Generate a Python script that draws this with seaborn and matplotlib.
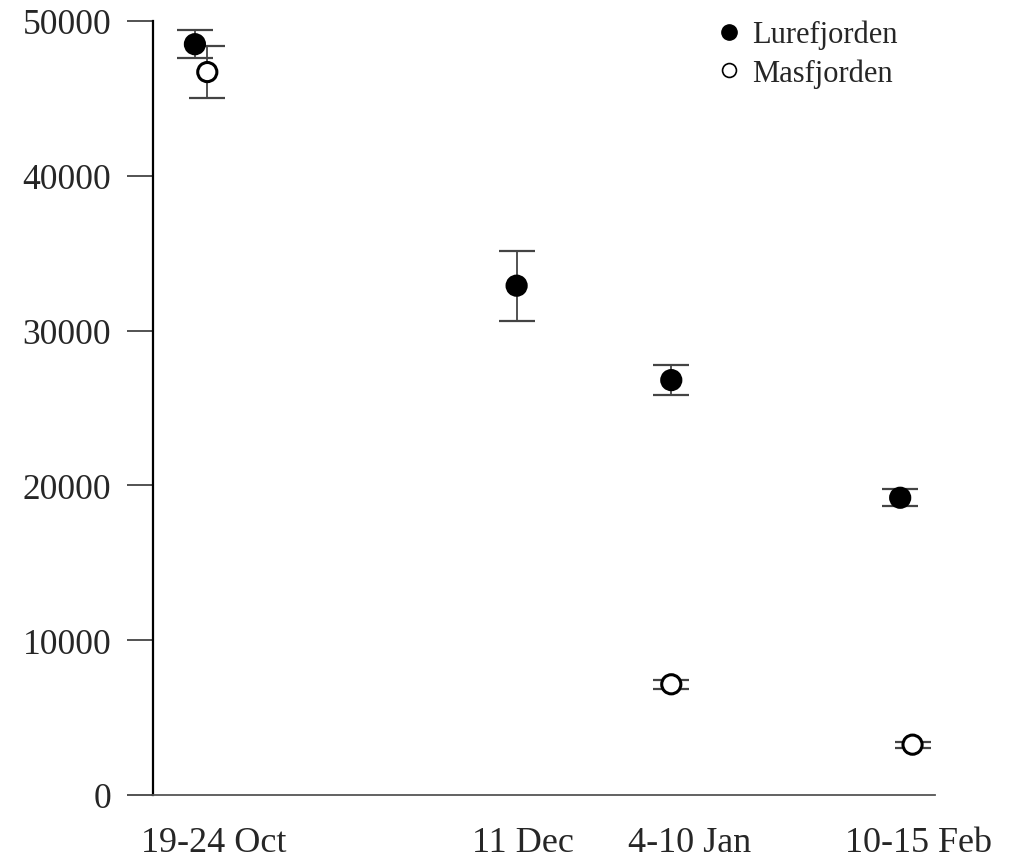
import numpy as np
import pandas as pd
import matplotlib
matplotlib.use("Agg")
import matplotlib.pyplot as plt
from matplotlib.lines import Line2D
import seaborn as sns

# Sampling dates, counted in days from 21 October
tick_labels = ["19-24 Oct", "11 Dec", "4-10 Jan", "10-15 Feb"]
tick_days = [3, 53, 80, 117]

lure_days = [0, 52, 77, 114]
lure_mean = [48500, 32900, 26800, 19200]
lure_err = [900, 2250, 950, 550]

mas_days = [2, 77, 116]
mas_mean = [46700, 7150, 3250]
mas_err = [1700, 300, 200]

df = pd.concat([
    pd.DataFrame({"day": lure_days, "value": lure_mean, "err": lure_err, "fjord": "Lurefjorden"}),
    pd.DataFrame({"day": mas_days, "value": mas_mean, "err": mas_err, "fjord": "Masfjorden"}),
], ignore_index=True)

sns.set_style("white")
plt.rcParams["font.family"] = ["Liberation Serif", "DejaVu Serif"]

fig = plt.figure(figsize=(10.19, 8.62), dpi=100)
ax = fig.add_axes([0.150, 0.0766, 0.768, 0.8979])

# error bars first so the markers sit on top
for fjord, sub in df.groupby("fjord"):
    ax.errorbar(sub["day"], sub["value"], yerr=sub["err"], fmt="none",
                ecolor="#444444", elinewidth=1.3, capsize=13, capthick=1.6, zorder=2)

sns.scatterplot(data=df, x="day", y="value", style="fjord", hue="fjord",
                markers={"Lurefjorden": "o", "Masfjorden": "o"},
                palette={"Lurefjorden": "black", "Masfjorden": "white"},
                edgecolor="black", linewidth=2.2, s=190, legend=False, ax=ax, zorder=3)

ax.set_xlim(-6.8, 119.7)
ax.set_ylim(0, 50000)
ax.set_yticks(np.arange(0, 50001, 10000))
ax.set_yticklabels([str(v) for v in range(0, 50001, 10000)])
ax.set_xticks(tick_days)
ax.set_xticklabels(tick_labels)
ax.set_xlabel("")
ax.set_ylabel("")

for s in ["top", "right"]:
    ax.spines[s].set_visible(False)
ax.spines["left"].set_color("black")
ax.spines["left"].set_linewidth(1.6)
ax.spines["bottom"].set_color("#555555")
ax.spines["bottom"].set_linewidth(1.3)

ax.tick_params(axis="y", direction="out", length=19, width=1.3, color="#444444",
               pad=11, labelsize=25.5, left=True)
ax.tick_params(axis="x", length=0, pad=22, labelsize=26)

handles = [
    Line2D([], [], marker="o", linestyle="none", markersize=11,
           markerfacecolor="black", markeredgecolor="black", label="Lurefjorden"),
    Line2D([], [], marker="o", linestyle="none", markersize=10,
           markerfacecolor="white", markeredgecolor="black", markeredgewidth=1.2,
           label="Masfjorden"),
]
ax.legend(handles=handles, loc="upper right", bbox_to_anchor=(0.975, 1.025),
          frameon=False, fontsize=22, handletextpad=0.25, labelspacing=0.3,
          handlelength=1.0, borderaxespad=0.2)

fig.savefig("out.png", dpi=100, facecolor="white")
